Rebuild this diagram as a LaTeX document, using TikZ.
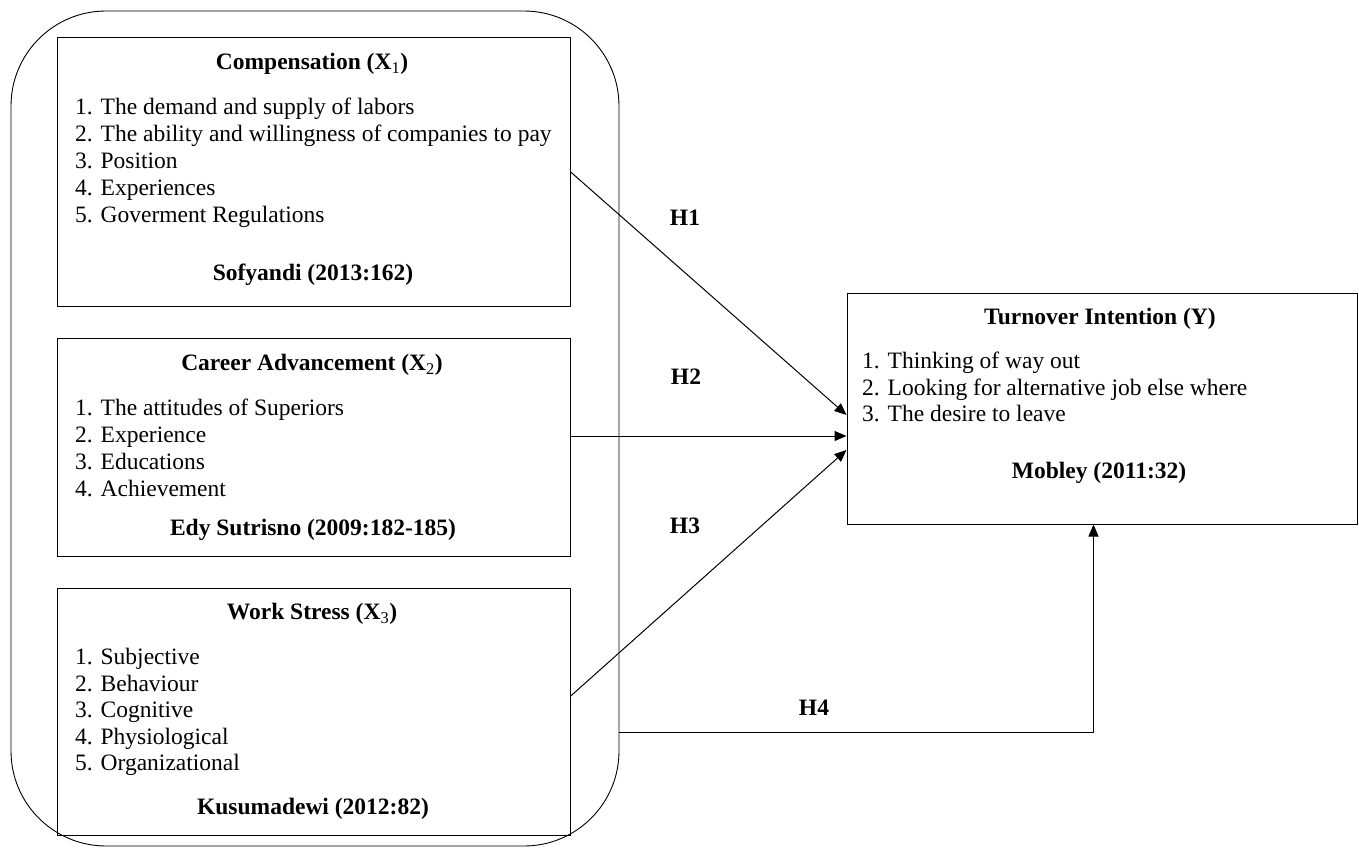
\documentclass[tikz,border=0pt]{standalone}
\usepackage{fontspec}
\setmainfont{Liberation Serif}
\usetikzlibrary{arrows.meta,calc}
\begin{document}
\begin{tikzpicture}[x=1pt,y=-1pt,
  box/.style={draw, line width=1pt, minimum width=513pt, inner sep=0pt},
  ttl/.style={font=\fontsize{23.5}{28}\selectfont\bfseries, anchor=base, inner sep=0pt},
  itm/.style={font=\fontsize{23.5}{28}\selectfont, anchor=base west, inner sep=0pt},
  conn/.style={line width=1pt, -{Triangle[length=12pt,width=10pt]}},
  hl/.style={font=\fontsize{23.5}{28}\selectfont\bfseries, inner sep=0pt}]
\useasboundingbox (0,0) rectangle (1359,848);
\node[draw, line width=0.9pt, rounded corners=95pt, minimum width=608pt, minimum height=835pt, inner sep=0pt] (outer) at (315,428.5) {};
\node[box, minimum height=268pt] (bx1) at (313.7,172) {};
\node[box, minimum height=218pt] (bx2) at (313.7,447) {};
\node[box, minimum height=247pt] (bx3) at (313.7,711.5) {};
\node[draw, line width=1pt, minimum width=510pt, minimum height=231pt, inner sep=0pt] (yb) at (1102,408.5) {};
% box 1
\node[ttl] (t1) at (312,69.5) {Compensation (X\textsubscript{\mdseries 1})};
\foreach \t [count=\i] in {{1. The demand and supply of labors},{2. The ability and willingness of companies to pay},{3. Position},{4. Experiences},{5. Goverment Regulations}}
  \node[itm] (ia\i) at (75,87.5+27*\i) {\t};
\node[ttl] (s1) at (313,280.5) {Sofyandi (2013:162)};
% box 2
\node[ttl] (t2) at (312,370.5) {Career Advancement (X\textsubscript{\mdseries 2})};
\foreach \t [count=\i] in {{1. The attitudes of Superiors},{2. Experience},{3. Educations},{4. Achievement}}
  \node[itm] (ib\i) at (75,388.5+27*\i) {\t};
\node[ttl] (s2) at (313,535.5) {Edy Sutrisno (2009:182-185)};
% box 3
\node[ttl] (t3) at (312,619.5) {Work Stress (X\textsubscript{\mdseries 3})};
\foreach \t [count=\i] in {{1. Subjective},{2. Behaviour},{3. Cognitive},{4. Physiological},{5. Organizational}}
  \node[itm] (ic\i) at (75,638+26.5*\i) {\t};
\node[ttl] (s3) at (313,814.5) {Kusumadewi (2012:82)};
% Y box
\node[ttl] (ty) at (1100,324.5) {Turnover Intention (Y)};
\foreach \t [count=\i] in {{1. Thinking of way out},{2. Looking for alternative job else where},{3. The desire to leave}}
  \node[itm] (id\i) at (862,342+26.5*\i) {\t};
\node[ttl] (sy) at (1099,478.5) {Mobley (2011:32)};
% connectors
\draw[conn] (bx1.east) -- ($(yb.west)+(0,6.5)$);
\draw[conn] ($(bx2.east)+(0,-11)$) -- ($(yb.west)+(0,27.5)$);
\draw[conn] ($(bx3.east)+(0,-15.5)$) -- ($(yb.west)+(0,41.5)$);
\coordinate (h4s) at ($(outer.east)+(0,303.5)$);
\coordinate (h4e) at ($(yb.south)+(-8.5,0)$);
\draw[conn] (h4s) -| (h4e);
% labels
\node[hl] (h1) at (685,218) {H1};
\node[hl] (h2) at (686,377) {H2};
\node[hl] (h3) at (685,526) {H3};
\node[hl] (h4) at (814,708) {H4};
\end{tikzpicture}
\end{document}
